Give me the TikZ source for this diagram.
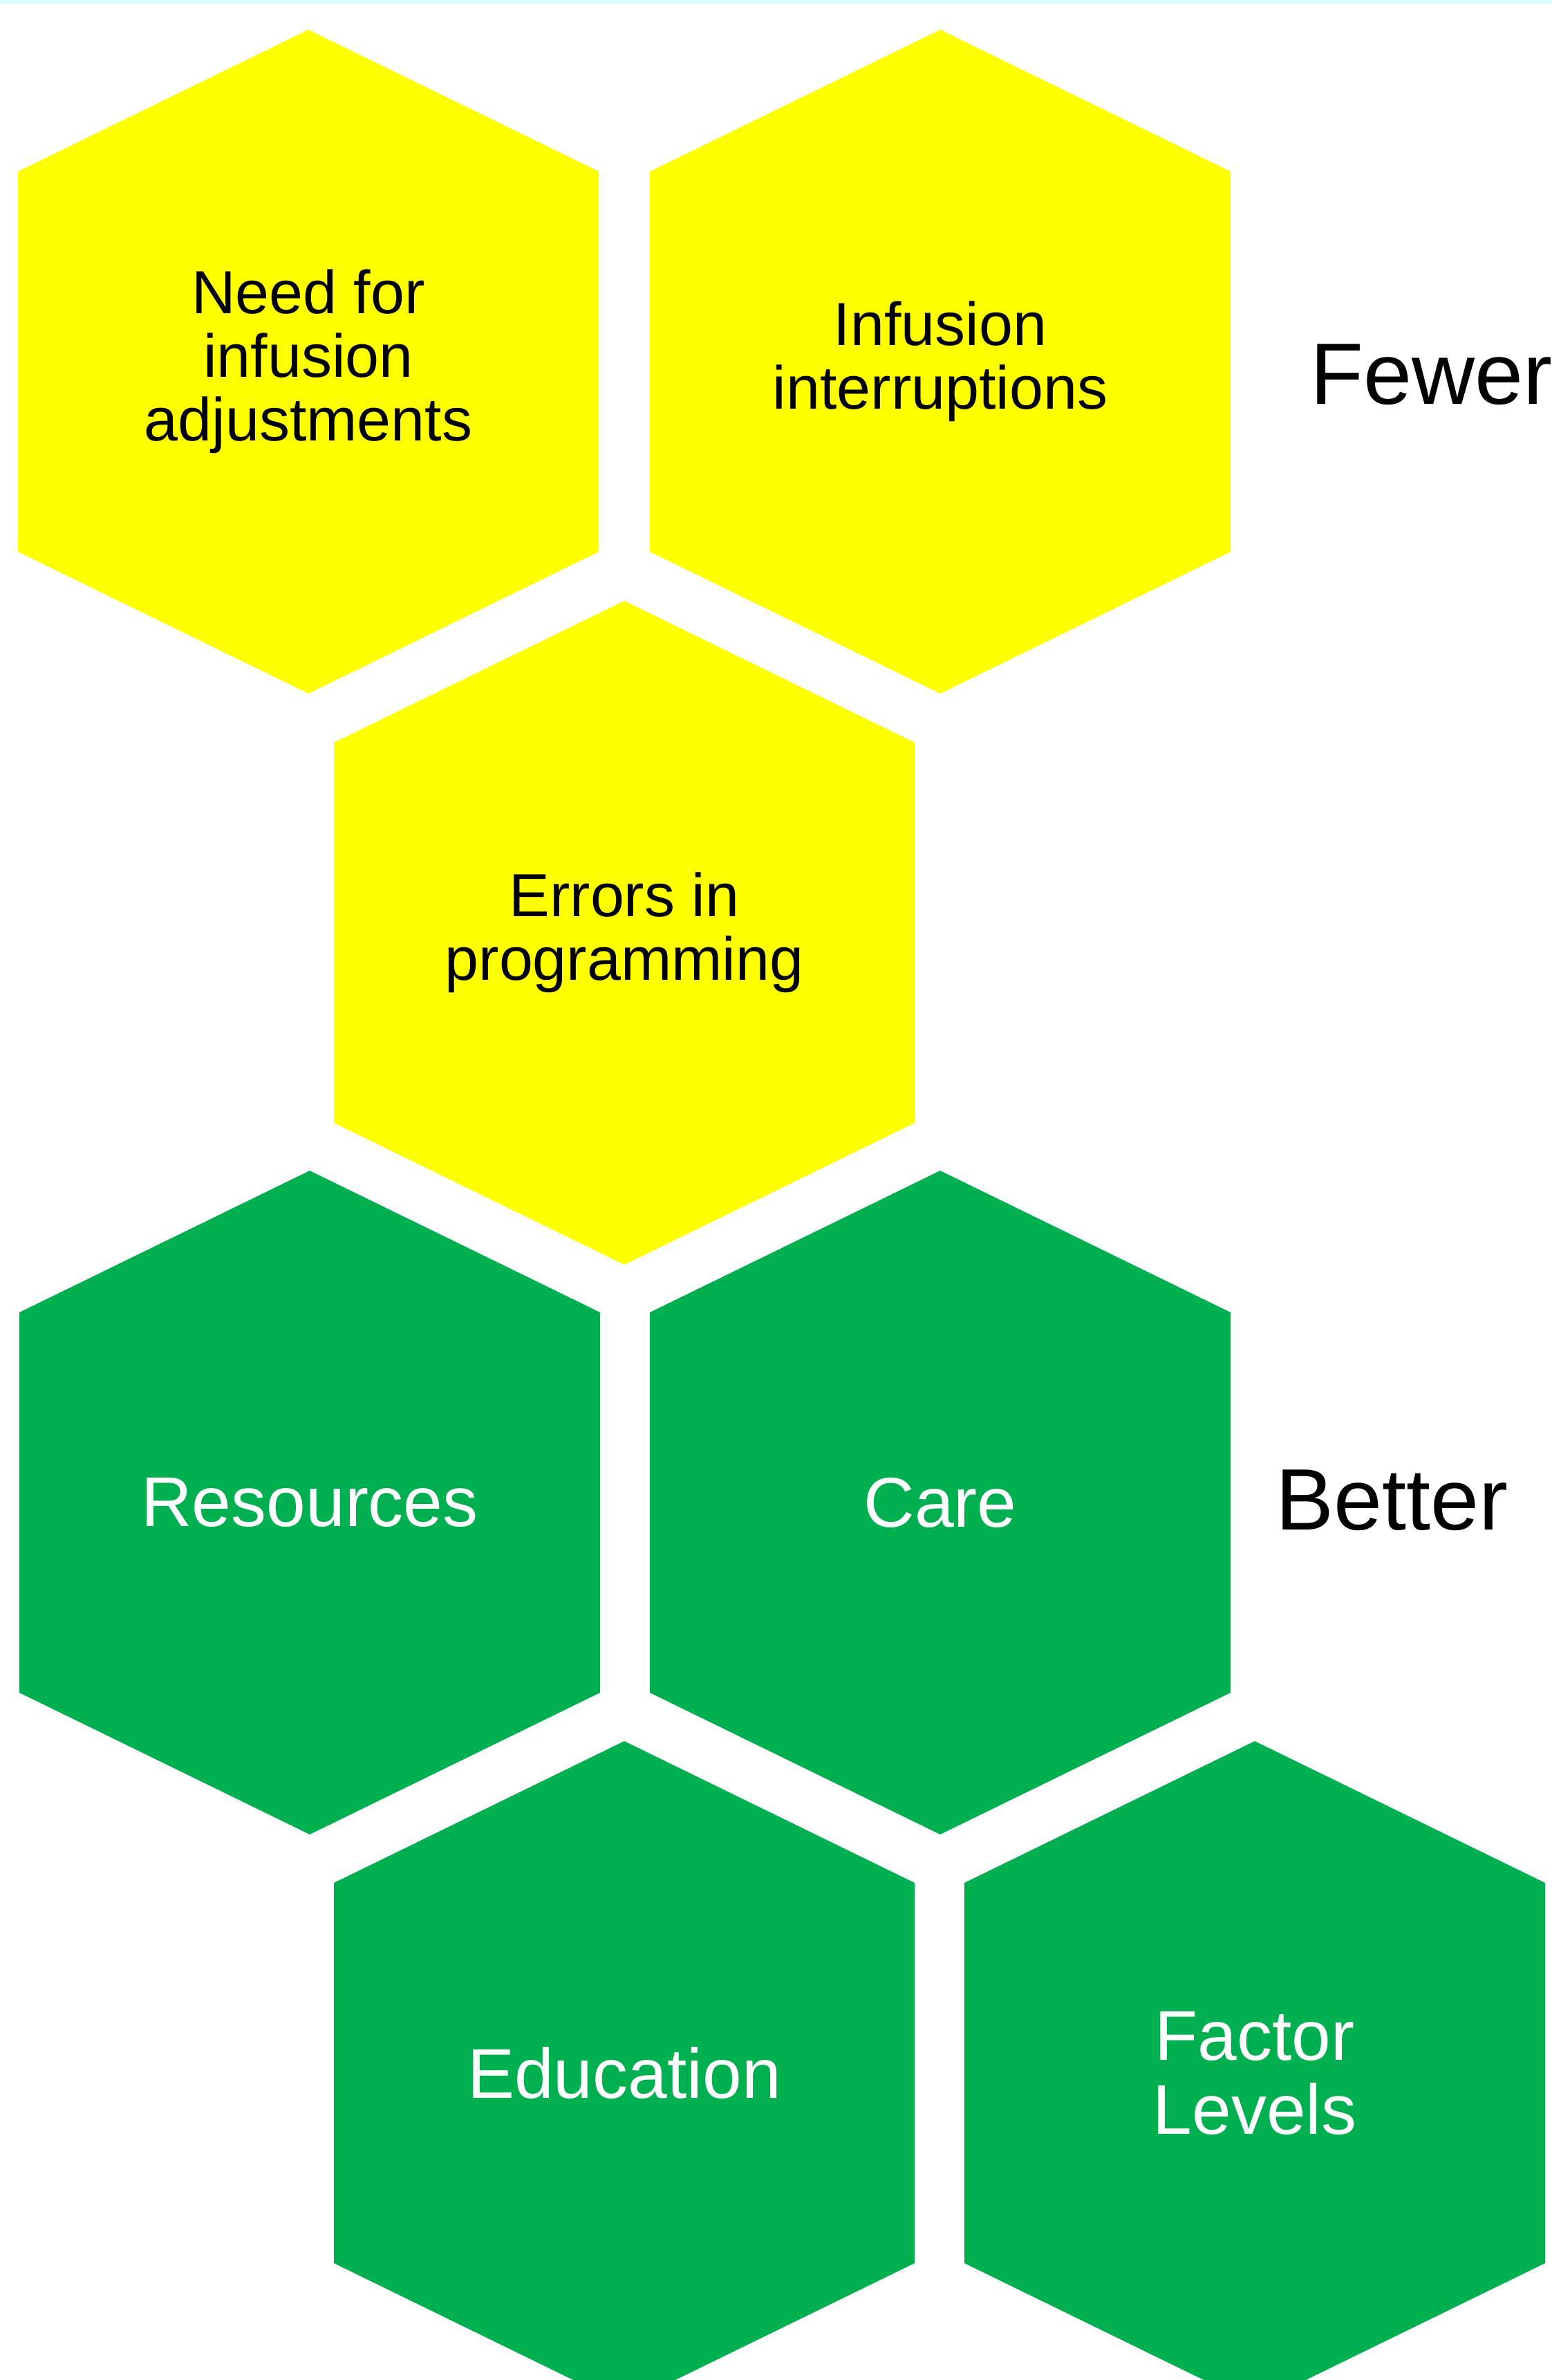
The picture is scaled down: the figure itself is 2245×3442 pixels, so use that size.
\documentclass[tikz,border=0pt]{standalone}
\usepackage{fontspec}
\setmainfont{Liberation Sans}
\definecolor{hexyellow}{RGB}{255,255,0}
\definecolor{hexgreen}{RGB}{0,176,80}
\definecolor{topband}{RGB}{222,252,255}
\tikzset{
  hexshape/.style={draw=none},
  yellowtext/.style={inner sep=0pt, align=center, text=black,
    font=\fontsize{88}{92}\selectfont},
  greentext/.style={inner sep=0pt, align=center, text=white,
    font=\fontsize{102}{107}\selectfont},
  sidetext/.style={inner sep=0pt, anchor=base west, text=black,
    font=\fontsize{126}{130}\selectfont},
}
\newcommand{\hexat}[3]{%
  \fill[#1] (#2,#3) +(0,-480) -- +(420,-275) -- +(420,275) -- +(0,480)
    -- +(-420,275) -- +(-420,-275) -- cycle;}
\begin{document}
\begin{tikzpicture}[x=1pt,y=-1pt]
\useasboundingbox (0,0) rectangle (2245,3442);
\clip (0,0) rectangle (2245,3442);
\fill[white] (0,0) rectangle (2245,3442);
\fill[topband] (0,0) rectangle (2245,6);
% yellow hexagons
\hexat{hexyellow}{446}{523}
\hexat{hexyellow}{1360}{523}
\hexat{hexyellow}{903}{1349}
% green hexagons
\hexat{hexgreen}{448}{2173}
\hexat{hexgreen}{1360}{2173}
\hexat{hexgreen}{903}{2998}
\hexat{hexgreen}{1815}{2998}
% texts
\node[yellowtext] (need) at (446,523) {Need for\\infusion\\adjustments};
\node[yellowtext] (interr) at (1360,523) {Infusion\\interruptions};
\node[yellowtext] (errors) at (903,1349) {Errors in\\programming};
\node[greentext] (res) at (448,2173) {Resources};
\node[greentext] (care) at (1360,2173) {Care};
\node[greentext] (edu) at (903,2998) {Education};
\node[greentext] (factor) at (1815,2998) {Factor\\Levels};
\node[sidetext] (fewer) at (1895,584) {Fewer};
\node[sidetext] (better) at (1845,2212) {Better};
\end{tikzpicture}
\end{document}
